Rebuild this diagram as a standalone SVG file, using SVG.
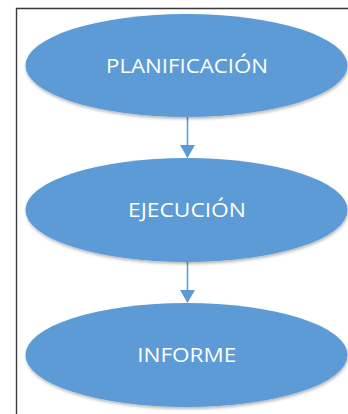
<svg xmlns="http://www.w3.org/2000/svg" width="348" height="414" viewBox="0 0 348 414">
  <style>
    .node { fill: #5B9BD5; filter: url(#shadow); }
    .label { fill: #FFFFFF; font-family: "Open Sans", "Liberation Sans", sans-serif; font-size: 19.5px; text-anchor: middle; }
    .conn { stroke: #5B9BD5; stroke-width: 1.6; fill: none; marker-end: url(#arrow); }
    .frame { stroke: #3a3a3a; stroke-width: 1.4; fill: none; }
  </style>
  <defs>
    <filter id="shadow" x="-10%" y="-10%" width="120%" height="130%">
      <feDropShadow dx="0.5" dy="2" stdDeviation="1.5" flood-color="#000000" flood-opacity="0.28"/>
    </filter>
    <marker id="arrow" viewBox="0 0 13 15" refX="12" refY="7.5" markerWidth="13" markerHeight="15" markerUnits="userSpaceOnUse" orient="auto">
      <path d="M0,0 L13,7.5 L0,15 Z" fill="#5B9BD5"/>
    </marker>
  </defs>
  <rect width="348" height="414" fill="#FFFFFF"/>
  <path class="frame" d="M16.5,414 L16.5,8.5 L348,8.5"/>
  <g id="connectors">
    <line class="conn" x1="187.5" y1="117" x2="187.5" y2="157"/>
    <line class="conn" x1="187.5" y1="262" x2="187.5" y2="302"/>
  </g>
  <g id="planificacion">
    <ellipse class="node" cx="186.5" cy="65.5" rx="161" ry="51.5"/>
    <text class="label" x="187" y="73.3" textLength="162" lengthAdjust="spacingAndGlyphs">PLANIFICACIÓN</text>
  </g>
  <g id="ejecucion">
    <ellipse class="node" cx="186.5" cy="210" rx="161" ry="52"/>
    <text class="label" x="187" y="217.3" textLength="118" lengthAdjust="spacingAndGlyphs">EJECUCIÓN</text>
  </g>
  <g id="informe">
    <ellipse class="node" cx="186.5" cy="355" rx="161" ry="52"/>
    <text class="label" x="186.7" y="362.3" textLength="99" lengthAdjust="spacingAndGlyphs">INFORME</text>
  </g>
</svg>
